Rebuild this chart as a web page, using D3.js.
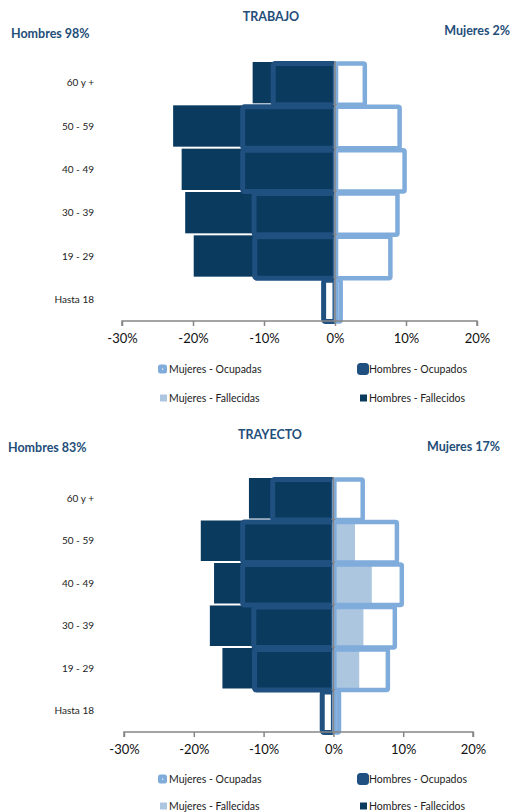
<!DOCTYPE html>
<html>
<head>
<meta charset="utf-8">
<script src="https://cdn.jsdelivr.net/npm/d3@7"></script>
<style>
  body { margin: 0; background: #fff; }
  svg { font-family: Lato, "Open Sans", sans-serif; }
</style>
</head>
<body>
<div id="chart"></div>
<script>
// age groups, top to bottom
var ageGroups = ["60 y +", "50 - 59", "40 - 49", "30 - 39", "19 - 29", "Hasta 18"];
var xTicks = [-30, -20, -10, 0, 10, 20];

// share of employed people (%), same for both charts
var hombresOcupados = [-8.7, -13.0, -13.0, -11.4, -11.3, -1.6];
var mujeresOcupadas = [4.2, 9.1, 9.8, 8.8, 7.8, 0.8];

// TRABAJO deaths (%)
var trabajoHombres = [-11.6, -22.8, -21.6, -21.1, -19.9, 0];
var trabajoMujeres = [0, 0, 0.4, 0.4, 0, 0];

// TRAYECTO deaths (%)
var trayectoHombres = [-12.1, -19.0, -17.1, -17.7, -15.9, 0];
var trayectoMujeres = [0, 3.1, 5.5, 4.3, 3.7, 0];

var colHF = "#0b3a5f", colHO = "#1f5080", colMO = "#80acdc", colMF = "#adc6e0";
var titleCol = "#1f4e79", axisCol = "#868686";

var svg = d3.select("#chart").append("svg")
  .attr("width", 511)
  .attr("height", 812);

function drawPyramid(cfg) {
  var x = d3.scaleLinear().domain([-30, 20]).range([cfg.left, cfg.right]);
  var y = d3.scaleBand().domain(ageGroups).range([cfg.top, cfg.bottom]);
  var g = svg.append("g");

  // titles
  g.append("text").attr("x", cfg.titleX).attr("y", cfg.titleY)
    .attr("text-anchor", "middle").attr("font-weight", "bold")
    .attr("font-size", 12.5).attr("fill", titleCol).text(cfg.title);
  g.append("text").attr("x", cfg.hX).attr("y", cfg.hY)
    .attr("font-weight", "bold").attr("font-size", 12.5)
    .attr("fill", titleCol).text(cfg.hombresLabel);
  g.append("text").attr("x", cfg.mX).attr("y", cfg.mY)
    .attr("text-anchor", "end").attr("font-weight", "bold")
    .attr("font-size", 12.5).attr("fill", titleCol).text(cfg.mujeresLabel);

  // deaths, filled
  g.selectAll(".hf").data(ageGroups).enter().append("rect")
    .attr("x", (d, i) => x(cfg.hombres[i]))
    .attr("y", d => y(d) + 1)
    .attr("width", (d, i) => x(0) - x(cfg.hombres[i]))
    .attr("height", y.bandwidth() - 2)
    .attr("fill", colHF);
  g.selectAll(".mf").data(ageGroups).enter().append("rect")
    .attr("x", x(0))
    .attr("y", d => y(d) + 1)
    .attr("width", (d, i) => x(cfg.mujeres[i]) - x(0))
    .attr("height", y.bandwidth() - 2)
    .attr("fill", colMF);

  // employed, outlined
  g.selectAll(".ho").data(ageGroups).enter().append("rect")
    .attr("x", (d, i) => x(hombresOcupados[i]))
    .attr("y", d => y(d) + 2.5)
    .attr("width", (d, i) => x(0) - x(hombresOcupados[i]))
    .attr("height", y.bandwidth() - 2)
    .attr("rx", 2)
    .attr("fill", "none")
    .attr("stroke", colHO)
    .attr("stroke-width", 5);
  g.selectAll(".mo").data(ageGroups).enter().append("rect")
    .attr("x", x(0) + 1)
    .attr("y", d => y(d) + 2.5)
    .attr("width", (d, i) => x(mujeresOcupadas[i]) - x(0) - 1)
    .attr("height", y.bandwidth() - 2)
    .attr("rx", 1.5)
    .attr("fill", "none")
    .attr("stroke", colMO)
    .attr("stroke-width", 4.5);

  // vertical axis at 0
  g.append("line")
    .attr("x1", x(0)).attr("x2", x(0))
    .attr("y1", cfg.top).attr("y2", cfg.bottom)
    .attr("stroke", axisCol).attr("stroke-width", 1.5);
  g.selectAll(".yt").data(ageGroups.slice(1)).enter().append("line")
    .attr("x1", x(0) - 2).attr("x2", x(0) + 2)
    .attr("y1", d => y(d)).attr("y2", d => y(d))
    .attr("stroke", axisCol);

  // category labels
  g.selectAll(".cat").data(ageGroups).enter().append("text")
    .attr("x", 94)
    .attr("y", d => y(d) + y.bandwidth() / 2)
    .attr("dy", "0.35em")
    .attr("text-anchor", "end")
    .attr("font-size", 10)
    .attr("fill", "#222")
    .text(d => d);

  // x axis
  var xAxis = d3.axisBottom(x).tickValues(xTicks)
    .tickFormat(d => d + "%").tickSize(5).tickPadding(8);
  var ax = g.append("g")
    .attr("transform", `translate(0, ${cfg.bottom})`)
    .call(xAxis);
  ax.select(".domain").attr("stroke", axisCol).attr("stroke-width", 1.5)
    .attr("d", `M${cfg.left},5V0H${cfg.right}V5`);
  ax.selectAll(".tick line").attr("stroke", axisCol).attr("stroke-width", 1.5);
  ax.selectAll(".tick text").attr("font-size", 13)
    .attr("font-family", "Lato, sans-serif").attr("fill", "#111");

  // legend
  var lg = g.append("g").attr("font-size", 10.5).attr("fill", "#222");
  lg.append("rect").attr("x", 158).attr("y", cfg.leg1 - 4.5)
    .attr("width", 9).attr("height", 9).attr("rx", 2.5)
    .attr("fill", colMO);
  lg.append("rect").attr("x", 162).attr("y", cfg.leg1 - 0.5)
    .attr("width", 1.2).attr("height", 1.2).attr("fill", "#fff");
  lg.append("text").attr("x", 169).attr("y", cfg.leg1).attr("dy", "0.35em")
    .text("Mujeres -  Ocupadas");
  lg.append("rect").attr("x", 357).attr("y", cfg.leg1 - 6)
    .attr("width", 12).attr("height", 12).attr("rx", 3.5)
    .attr("fill", colHO);
  lg.append("text").attr("x", 369).attr("y", cfg.leg1).attr("dy", "0.35em")
    .text("Hombres - Ocupados");
  lg.append("rect").attr("x", 160).attr("y", cfg.leg2 - 3.5)
    .attr("width", 7).attr("height", 7).attr("fill", colMF);
  lg.append("text").attr("x", 169).attr("y", cfg.leg2).attr("dy", "0.35em")
    .text("Mujeres - Fallecidas");
  lg.append("rect").attr("x", 360).attr("y", cfg.leg2 - 3.5)
    .attr("width", 7).attr("height", 7).attr("fill", colHF);
  lg.append("text").attr("x", 369).attr("y", cfg.leg2).attr("dy", "0.35em")
    .text("Hombres - Fallecidos");
}

drawPyramid({
  title: "TRABAJO", titleX: 271, titleY: 21,
  hombresLabel: "Hombres 98%", hX: 11, hY: 38,
  mujeresLabel: "Mujeres 2%", mX: 510, mY: 35,
  left: 122, right: 477, top: 61, bottom: 321,
  hombres: trabajoHombres, mujeres: trabajoMujeres,
  leg1: 369, leg2: 398
});

drawPyramid({
  title: "TRAYECTO", titleX: 270, titleY: 439,
  hombresLabel: "Hombres 83%", hX: 8, hY: 452,
  mujeresLabel: "Mujeres 17%", mX: 500, mY: 451,
  left: 124, right: 473, top: 477, bottom: 732,
  hombres: trayectoHombres, mujeres: trayectoMujeres,
  leg1: 779, leg2: 806
});
</script>
</body>
</html>
